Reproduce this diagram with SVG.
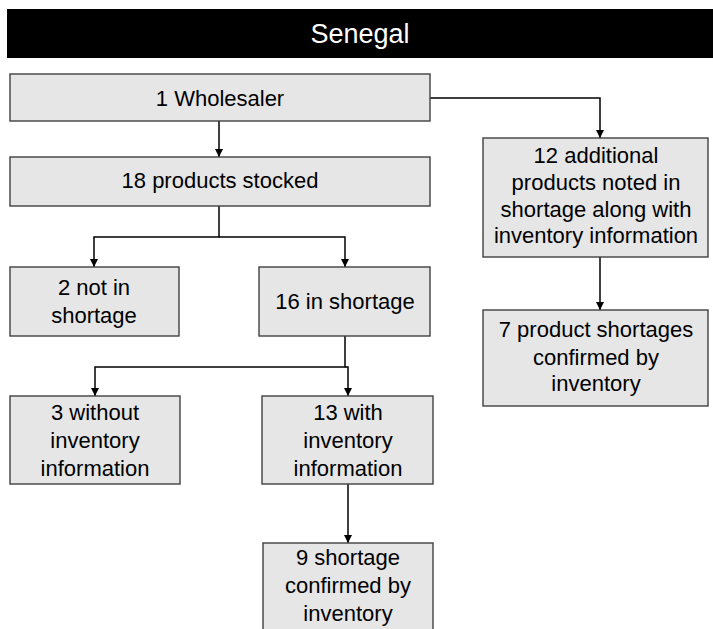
<svg xmlns="http://www.w3.org/2000/svg" width="713" height="629" viewBox="0 0 713 629">
  <style>
    .box { fill: #e6e6e6; stroke: #404040; stroke-width: 1.4; }
    .lbl { font-family: "Liberation Sans", Arial, sans-serif; font-size: 22px; fill: #000; text-anchor: middle; }
    .title { font-family: "Liberation Sans", Arial, sans-serif; font-size: 27px; fill: #fff; text-anchor: middle; }
    .wire { fill: none; stroke: #000; stroke-width: 1.5; }
  </style>
  <defs>
    <marker id="arrow" viewBox="0 0 10 10" refX="10" refY="5" markerWidth="8" markerHeight="8" markerUnits="userSpaceOnUse" orient="auto">
      <path d="M0,0 L10,5 L0,10 Z" fill="#000"/>
    </marker>
  </defs>

  <rect width="713" height="629" fill="#fff"/>

  <g id="title">
    <rect x="7" y="9" width="706" height="49" fill="#000"/>
    <text class="title" x="360" y="43">Senegal</text>
  </g>

  <g id="connectors">
    <path class="wire" d="M219,121 V157" marker-end="url(#arrow)"/>
    <path class="wire" d="M430,98 H600 V138" marker-end="url(#arrow)"/>
    <path class="wire" d="M219,206 V237 H94 V267" marker-end="url(#arrow)"/>
    <path class="wire" d="M219,237 H345 V267" marker-end="url(#arrow)"/>
    <path class="wire" d="M345,336 V367 H95 V396" marker-end="url(#arrow)"/>
    <path class="wire" d="M345,367 H348 V396" marker-end="url(#arrow)"/>
    <path class="wire" d="M348,484 V543" marker-end="url(#arrow)"/>
    <path class="wire" d="M600,257 V310" marker-end="url(#arrow)"/>
  </g>

  <g id="wholesaler">
    <rect class="box" x="10" y="74" width="420" height="47"/>
    <text class="lbl" x="220" y="106">1 Wholesaler</text>
  </g>

  <g id="products-stocked">
    <rect class="box" x="10" y="157" width="420" height="49"/>
    <text class="lbl" x="220" y="188">18 products stocked</text>
  </g>

  <g id="not-in-shortage">
    <rect class="box" x="10" y="267" width="169" height="69"/>
    <text class="lbl" x="94" y="295">2 not in</text>
    <text class="lbl" x="94" y="323">shortage</text>
  </g>

  <g id="in-shortage">
    <rect class="box" x="259" y="267" width="171" height="69"/>
    <text class="lbl" x="345" y="309">16 in shortage</text>
  </g>

  <g id="without-inventory">
    <rect class="box" x="10" y="396" width="170" height="88"/>
    <text class="lbl" x="95" y="420">3 without</text>
    <text class="lbl" x="95" y="448">inventory</text>
    <text class="lbl" x="95" y="476">information</text>
  </g>

  <g id="with-inventory">
    <rect class="box" x="262" y="396" width="171" height="88"/>
    <text class="lbl" x="348" y="420">13 with</text>
    <text class="lbl" x="348" y="448">inventory</text>
    <text class="lbl" x="348" y="476">information</text>
  </g>

  <g id="shortage-confirmed">
    <rect class="box" x="263" y="543" width="170" height="100"/>
    <text class="lbl" x="348" y="565">9 shortage</text>
    <text class="lbl" x="348" y="593">confirmed by</text>
    <text class="lbl" x="348" y="621">inventory</text>
  </g>

  <g id="additional-products">
    <rect class="box" x="483" y="138" width="225" height="119"/>
    <text class="lbl" x="596" y="163">12 additional</text>
    <text class="lbl" x="596" y="190">products noted in</text>
    <text class="lbl" x="596" y="217">shortage along with</text>
    <text class="lbl" x="596" y="243">inventory information</text>
  </g>

  <g id="shortages-confirmed">
    <rect class="box" x="483" y="310" width="225" height="96"/>
    <text class="lbl" x="596" y="337">7 product shortages</text>
    <text class="lbl" x="596" y="365">confirmed by</text>
    <text class="lbl" x="596" y="391">inventory</text>
  </g>
</svg>
